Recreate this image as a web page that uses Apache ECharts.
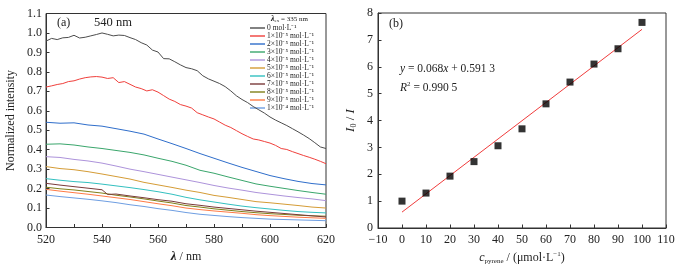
<!DOCTYPE html>
<html>
<head>
<meta charset="utf-8">
<script src="https://cdn.jsdelivr.net/npm/echarts@6/dist/echarts.min.js"></script>
<style>
  html, body { margin: 0; padding: 0; background: #fff; }
  #chart { width: 686px; height: 272px; }
</style>
</head>
<body>
<div id="chart"></div>
<script>
// wavelengths (nm)
const wl2 = [520, 522, 524, 526, 528, 530, 532, 534, 536, 538, 540, 542, 544, 546, 548, 550,
  552, 554, 556, 558, 560, 562, 564, 566, 568, 570, 572, 574, 576, 578, 580, 582, 584, 586,
  588, 590, 592, 594, 596, 598, 600, 602, 604, 606, 608, 610, 612, 614, 616, 618, 620];
const wl5 = [520, 525, 530, 535, 540, 545, 550, 555, 560, 565, 570, 575, 580, 585, 590, 595,
  600, 605, 610, 615, 620];
const wlBrown = [520, 525, 530, 535, 540, 542, 545, 550, 555, 560, 565, 570, 575, 580, 585,
  590, 595, 600, 605, 610, 615, 620];

// normalized intensity per pyrene concentration
const c0 = [0.958, 0.972, 0.966, 0.975, 0.977, 0.988, 0.974, 0.978, 0.985, 0.992, 1.0, 0.993,
  0.985, 0.989, 0.987, 0.976, 0.966, 0.950, 0.938, 0.912, 0.902, 0.868, 0.867, 0.852, 0.836,
  0.822, 0.816, 0.806, 0.780, 0.764, 0.752, 0.740, 0.724, 0.702, 0.677, 0.658, 0.642, 0.622,
  0.605, 0.588, 0.568, 0.552, 0.538, 0.524, 0.508, 0.492, 0.475, 0.457, 0.436, 0.414, 0.406];
const c1 = [0.722, 0.728, 0.735, 0.740, 0.750, 0.754, 0.763, 0.770, 0.774, 0.776, 0.773, 0.766,
  0.770, 0.745, 0.750, 0.736, 0.722, 0.714, 0.702, 0.708, 0.696, 0.678, 0.660, 0.648, 0.632,
  0.624, 0.614, 0.590, 0.579, 0.568, 0.558, 0.542, 0.526, 0.514, 0.498, 0.482, 0.468, 0.455,
  0.450, 0.442, 0.434, 0.422, 0.406, 0.401, 0.390, 0.380, 0.370, 0.361, 0.351, 0.340, 0.328];
const c2 = [0.541, 0.536, 0.538, 0.527, 0.521, 0.508, 0.495, 0.480, 0.455, 0.431, 0.406, 0.380,
  0.356, 0.332, 0.309, 0.288, 0.267, 0.251, 0.237, 0.226, 0.219];
const c3 = [0.428, 0.430, 0.424, 0.414, 0.406, 0.396, 0.386, 0.373, 0.356, 0.340, 0.320, 0.294,
  0.279, 0.260, 0.242, 0.224, 0.212, 0.201, 0.190, 0.180, 0.171];
const c4 = [0.364, 0.360, 0.350, 0.342, 0.331, 0.316, 0.300, 0.287, 0.273, 0.259, 0.245, 0.231,
  0.216, 0.203, 0.192, 0.180, 0.171, 0.162, 0.154, 0.147, 0.138];
const c5 = [0.313, 0.303, 0.297, 0.287, 0.275, 0.262, 0.249, 0.232, 0.219, 0.206, 0.192, 0.180,
  0.165, 0.155, 0.144, 0.133, 0.127, 0.120, 0.113, 0.105, 0.100];
const c6 = [0.251, 0.243, 0.236, 0.231, 0.223, 0.214, 0.205, 0.195, 0.184, 0.171, 0.155, 0.142,
  0.131, 0.120, 0.110, 0.102, 0.095, 0.088, 0.082, 0.078, 0.075];
const c7 = [0.227, 0.218, 0.210, 0.202, 0.194, 0.170, 0.172, 0.162, 0.153, 0.143, 0.135, 0.122,
  0.114, 0.105, 0.098, 0.091, 0.084, 0.078, 0.072, 0.066, 0.060, 0.054];
const c8 = [0.207, 0.199, 0.193, 0.185, 0.177, 0.166, 0.157, 0.147, 0.136, 0.126, 0.113, 0.105,
  0.096, 0.089, 0.082, 0.076, 0.071, 0.067, 0.063, 0.060, 0.058];
const c9 = [0.196, 0.187, 0.179, 0.171, 0.162, 0.153, 0.144, 0.133, 0.122, 0.112, 0.100, 0.092,
  0.085, 0.079, 0.073, 0.066, 0.061, 0.057, 0.053, 0.050, 0.047];
const c10 = [0.167, 0.159, 0.152, 0.145, 0.137, 0.128, 0.117, 0.108, 0.097, 0.088, 0.077, 0.068,
  0.062, 0.056, 0.051, 0.047, 0.043, 0.041, 0.039, 0.037, 0.035];

const concNames = ['0 mol·L⁻¹', '1×10⁻⁵ mol·L⁻¹', '2×10⁻⁵ mol·L⁻¹', '3×10⁻⁵ mol·L⁻¹',
  '4×10⁻⁵ mol·L⁻¹', '5×10⁻⁵ mol·L⁻¹', '6×10⁻⁵ mol·L⁻¹', '7×10⁻⁵ mol·L⁻¹',
  '8×10⁻⁵ mol·L⁻¹', '9×10⁻⁵ mol·L⁻¹', '1×10⁻⁴ mol·L⁻¹'];

// I0/I vs pyrene concentration (μmol/L)
const cPyrene = [0, 10, 20, 30, 40, 50, 60, 70, 80, 90, 100];
const ratio = [1.0, 1.30, 1.93, 2.47, 3.06, 3.69, 4.62, 5.43, 6.10, 6.67, 7.65];
const fitX = [0, 100];
const fitY = [0.5913, 7.3913];

const lineColors = ['#4d4d4d', '#f0403c', '#2f6ecb', '#3aa66c', '#ad93db', '#d59c36',
  '#33c0c0', '#7a3a3a', '#808018', '#ff7a45', '#6e9ee2'];

const curves = [
  [wl2, c0], [wl2, c1], [wl5, c2], [wl5, c3], [wl5, c4], [wl5, c5],
  [wl5, c6], [wlBrown, c7], [wl5, c8], [wl5, c9], [wl5, c10]
];

const serif = 'Liberation Serif';
const axisCol = '#333';
const txt = '#222';

const chart = echarts.init(document.getElementById('chart'), null, { renderer: 'canvas' });

const spectraSeries = curves.map(([xs, ys], i) => ({
  name: concNames[i],
  type: 'line',
  xAxisIndex: 0,
  yAxisIndex: 0,
  data: xs.map((x, k) => [x, ys[k]]),
  showSymbol: false,
  symbol: 'none',
  lineStyle: { width: 1, color: lineColors[i] },
  itemStyle: { color: lineColors[i] },
  z: 20 - i
}));

const axisLine = { show: true, onZero: false, lineStyle: { color: axisCol, width: 1 } };
const axisTick = { show: true, inside: true, length: 3.5, lineStyle: { color: axisCol } };

const option = {
  animation: false,
  backgroundColor: '#fff',
  grid: [
    { left: 46, top: 13.5, width: 280, height: 214, show: true, borderColor: axisCol, borderWidth: 1 },
    { left: 378, top: 13, width: 288, height: 215, show: true, borderColor: axisCol, borderWidth: 1 }
  ],
  legend: {
    data: concNames,
    orient: 'vertical',
    left: 250,
    top: 24,
    icon: 'rect',
    itemWidth: 15,
    itemHeight: 1.4,
    itemGap: 0,
    padding: 0,
    textStyle: { fontFamily: serif, fontSize: 7.5, color: txt, lineHeight: 7.45, padding: [0, 0, 0, -3] }
  },
  xAxis: [
    {
      type: 'value', gridIndex: 0, min: 520, max: 620, interval: 10,
      axisLine, axisTick, splitLine: { show: false },
      name: '{b|λ}{n| / nm}',
      nameLocation: 'middle',
      nameGap: 19,
      nameTextStyle: {
        rich: {
          b: { fontFamily: serif, fontSize: 13, fontWeight: 'bold', fontStyle: 'italic', color: txt },
          n: { fontFamily: serif, fontSize: 12, color: txt }
        }
      },
      axisLabel: {
        margin: 6, fontFamily: serif, fontSize: 12, color: txt,
        formatter: v => (v % 20 === 0 ? String(v) : '')
      }
    },
    {
      type: 'value', gridIndex: 1, min: -10, max: 110, interval: 10,
      axisLine, axisTick, splitLine: { show: false },
      name: '{i|c}{sub|pyrene}{n| / (μmol·L}{sup|−1}{n|)}',
      nameLocation: 'middle',
      nameGap: 18,
      nameTextStyle: {
        rich: {
          i: { fontFamily: serif, fontSize: 12, fontStyle: 'italic', color: txt, lineHeight: 14 },
          sub: { fontFamily: serif, fontSize: 7, color: txt, lineHeight: 7, verticalAlign: 'bottom' },
          sup: { fontFamily: serif, fontSize: 7, color: txt, lineHeight: 7, verticalAlign: 'top' },
          n: { fontFamily: serif, fontSize: 12, color: txt, lineHeight: 14 }
        }
      },
      axisLabel: {
        margin: 6, fontFamily: serif, fontSize: 12, color: txt,
        formatter: v => (v < 0 ? '−' + (-v) : String(v))
      }
    }
  ],
  yAxis: [
    {
      type: 'value', gridIndex: 0, min: 0, max: 1.1, interval: 0.1,
      axisLine, axisTick, splitLine: { show: false },
      axisLabel: {
        margin: 4, fontFamily: serif, fontSize: 12, color: txt,
        formatter: v => v.toFixed(1)
      },
      name: 'Normalized intensity',
      nameLocation: 'middle',
      nameGap: 29,
      nameTextStyle: { fontFamily: serif, fontSize: 12, color: txt }
    },
    {
      type: 'value', gridIndex: 1, min: 0, max: 8, interval: 1,
      axisLine, axisTick, splitLine: { show: false },
      axisLabel: { margin: 5, fontFamily: serif, fontSize: 12, color: txt },
      name: '{i|I}{sub|0}{n| / }{i|I}',
      nameLocation: 'middle',
      nameGap: 20,
      nameTextStyle: {
        rich: {
          i: { fontFamily: serif, fontSize: 13, fontStyle: 'italic', color: txt, lineHeight: 15 },
          sub: { fontFamily: serif, fontSize: 8, color: txt, lineHeight: 8, verticalAlign: 'bottom' },
          n: { fontFamily: serif, fontSize: 13, color: txt, lineHeight: 15 }
        }
      }
    }
  ],
  series: spectraSeries.concat([
    {
      name: 'fit',
      type: 'line',
      xAxisIndex: 1,
      yAxisIndex: 1,
      data: fitX.map((x, k) => [x, fitY[k]]),
      showSymbol: false,
      symbol: 'none',
      lineStyle: { width: 1, color: '#f03c3c' },
      z: 5
    },
    {
      name: 'I0/I',
      type: 'scatter',
      xAxisIndex: 1,
      yAxisIndex: 1,
      data: cPyrene.map((x, k) => [x, ratio[k]]),
      symbol: 'rect',
      symbolSize: 7,
      itemStyle: { color: '#000' },
      z: 10
    }
  ]),
  graphic: [
    {
      type: 'text', left: 57, top: 17,
      style: { text: '(a)', font: '12px "Liberation Serif"', fill: txt }
    },
    {
      type: 'text', left: 94, top: 16.5,
      style: { text: '540 nm', font: '12.5px "Liberation Serif"', fill: txt }
    },
    {
      type: 'text', left: 271, top: 15,
      style: {
        text: '{l|λ}{s|ex}{n| = 335 nm}',
        rich: {
          l: { fontFamily: serif, fontSize: 8, fontWeight: 'bold', fontStyle: 'italic', fill: txt, lineHeight: 9 },
          s: { fontFamily: serif, fontSize: 5, fill: txt, lineHeight: 5, verticalAlign: 'bottom' },
          n: { fontFamily: serif, fontSize: 7, fill: txt, lineHeight: 9 }
        }
      }
    },
    {
      type: 'text', left: 389, top: 18,
      style: { text: '(b)', font: '12px "Liberation Serif"', fill: txt }
    },
    {
      type: 'text', left: 400, top: 63,
      style: {
        text: '{i|y}{n| = 0.068}{i|x}{n| + 0.591 3}',
        rich: {
          i: { fontFamily: serif, fontSize: 11.5, fontStyle: 'italic', fill: txt, lineHeight: 14 },
          n: { fontFamily: serif, fontSize: 11.5, fill: txt, lineHeight: 14 }
        }
      }
    },
    {
      type: 'text', left: 400, top: 81,
      style: {
        text: '{i|R}{s|2}{n| = 0.990 5}',
        rich: {
          i: { fontFamily: serif, fontSize: 11.5, fontStyle: 'italic', fill: txt, lineHeight: 14 },
          s: { fontFamily: serif, fontSize: 7, fill: txt, lineHeight: 7, verticalAlign: 'top' },
          n: { fontFamily: serif, fontSize: 11.5, fill: txt, lineHeight: 14 }
        }
      }
    }
  ]
};

chart.setOption(option);
</script>
</body>
</html>
